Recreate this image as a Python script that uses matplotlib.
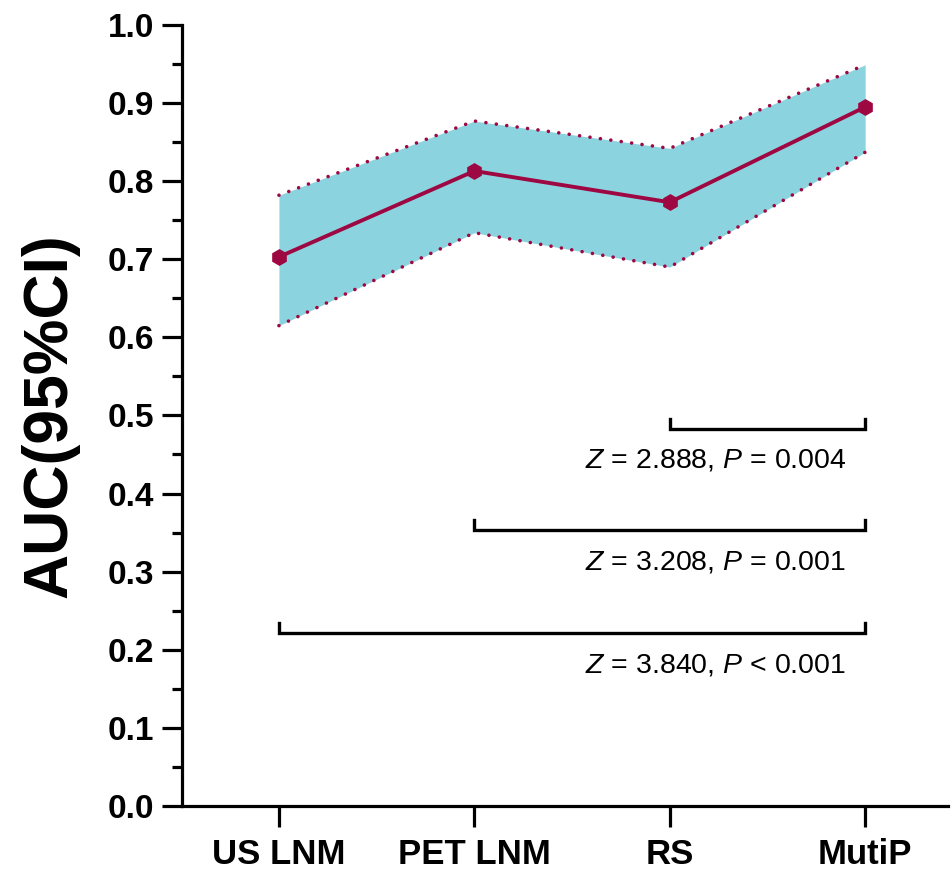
import matplotlib
matplotlib.use("Agg")
import matplotlib.pyplot as plt

plt.rcParams["mathtext.fontset"] = "custom"
plt.rcParams["mathtext.rm"] = "Liberation Sans"
plt.rcParams["mathtext.it"] = "Liberation Sans:italic"
plt.rcParams["font.family"] = ["Liberation Sans", "DejaVu Sans"]

# data
models = ["US LNM", "PET LNM", "RS", "MutiP"]
auc = [0.703, 0.813, 0.773, 0.895]
ci_low = [0.615, 0.734, 0.690, 0.837]
ci_high = [0.782, 0.877, 0.842, 0.949]

# pairwise comparisons: (from index, to index, bar height, text)
cmp_from = [2, 1, 0]
cmp_to = [3, 3, 3]
cmp_y = [0.483, 0.353, 0.221]
cmp_z = ["2.888", "3.208", "3.840"]
cmp_p = ["= 0.004", "= 0.001", "< 0.001"]

line_c = "#9E0842"
fill_c = "#8CD3E0"

fig = plt.figure(figsize=(9.52, 8.76), dpi=100)
ax = fig.add_axes([0.191, 0.080, 0.805, 0.8915])

x = list(range(len(models)))
ax.fill_between(x, ci_low, ci_high, color=fill_c, linewidth=0, zorder=1)
for band in (ci_low, ci_high):
    ax.plot(x, band, color=line_c, lw=2.6, linestyle=(0, (0.01, 2.9)),
            dash_capstyle="round", zorder=2)
ax.plot(x, auc, color=line_c, lw=2.8, marker="h", ms=11, zorder=3)

# comparison brackets
tick_h = 0.013
for a, b, yb, z, p in zip(cmp_from, cmp_to, cmp_y, cmp_z, cmp_p):
    ax.plot([a, a, b, b], [yb + tick_h, yb, yb, yb + tick_h], color="black",
            lw=2.4, solid_joinstyle="miter", zorder=3)
    ax.text(2.235, yb - 0.041, rf"$\it{{Z}}$ = {z}, $\it{{P}}$ {p}",
            ha="center", va="center", fontsize=20.5)

ax.set_xlim(-0.497, 3.425)
ax.set_ylim(0, 1.0)
ax.set_yticks([i / 10 for i in range(11)])
ax.set_yticks([i / 20 for i in range(1, 20, 2)], minor=True)
ax.set_yticklabels([f"{i / 10:.1f}" for i in range(11)], fontsize=24,
                   fontweight="bold")
ax.set_xticks(x)
ax.set_xticklabels(models, fontsize=25, fontweight="bold")

for s in ("top", "right"):
    ax.spines[s].set_visible(False)
for s in ("left", "bottom"):
    ax.spines[s].set_linewidth(2.3)

ax.tick_params(axis="y", which="major", length=14.5, width=2.3, pad=5.5)
ax.tick_params(axis="y", which="minor", length=7.5, width=2.3)
ax.tick_params(axis="x", which="major", length=15, width=2.3, pad=8)

ax.set_ylabel("AUC(95%CI)", fontsize=45, fontweight="bold", labelpad=20)

fig.savefig("out.png", dpi=100)
